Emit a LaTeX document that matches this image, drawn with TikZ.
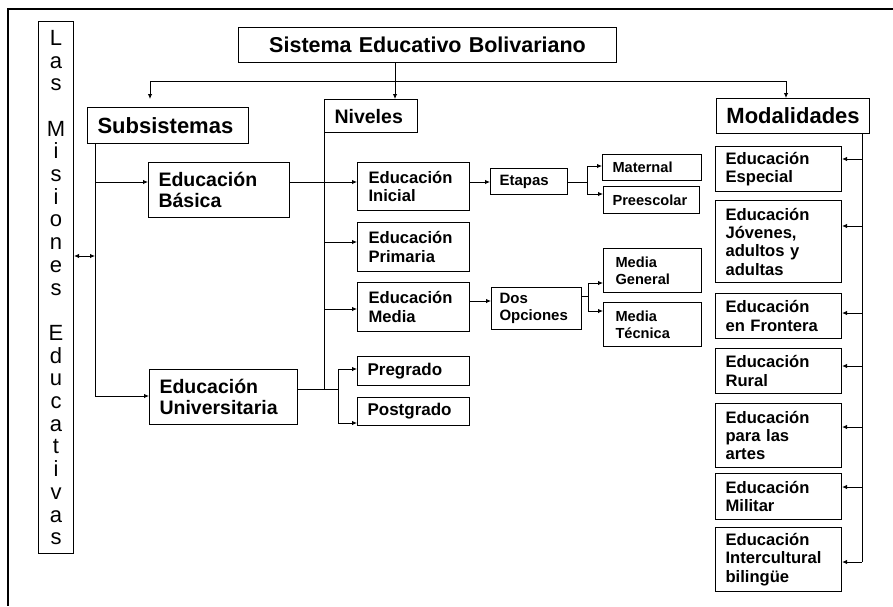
\documentclass[tikz,border=0pt]{standalone}
\usepackage{fontspec}
\setmainfont{Liberation Sans}
\usetikzlibrary{arrows.meta}
\tikzset{
  bx/.style={draw, line width=1.1pt, anchor=north west, inner ysep=0pt, align=left, font=\bfseries},
  arr/.style={-{Latex[length=5pt,width=4.5pt]}, line width=0.9pt},
  arrb/.style={{Latex[length=5pt,width=4.5pt]}-{Latex[length=5pt,width=4.5pt]}, line width=0.9pt},
  ln/.style={line width=0.9pt},
  fA/.style={font=\bfseries\fontsize{22}{24}\selectfont},
  fB/.style={font=\bfseries\fontsize{19.5}{21.5}\selectfont},
  fC/.style={font=\bfseries\fontsize{16.6}{18.3}\selectfont},
  fD/.style={font=\bfseries\fontsize{14.6}{17.5}\selectfont},
}
\begin{document}
\begin{tikzpicture}[x=1pt,y=-1pt]
\useasboundingbox (0,0) rectangle (893,606);
% frame
\draw[line width=2pt] (893,9) -- (8,9) -- (8,606);
% Las Misiones
\node[draw, line width=1.1pt, anchor=north west, minimum width=35, minimum height=532, inner sep=0pt, align=center,
  font=\fontsize{22}{22.7}\selectfont] (mis) at (38,21)
  {L\\a\\s\\\mbox{}\\M\\i\\s\\i\\o\\n\\e\\s\\\mbox{}\\E\\d\\u\\c\\a\\t\\i\\v\\a\\s};
% top boxes
\node[bx, align=center, minimum width=378, minimum height=35, text width=358, inner xsep=10pt, font=\bfseries\fontsize{21.5}{24}\selectfont] (sis) at (238,27) {Sistema Educativo Bolivariano};
\node[bx, fA, minimum width=161, minimum height=36, text width=141, inner xsep=10pt] (sub) at (87,107) {Subsistemas};
\node[bx, fB, minimum width=93, minimum height=33, text width=73, inner xsep=10pt] (niv) at (324,99) {Niveles};
\node[bx, fA, align=center, minimum width=153, minimum height=35, text width=141, inner xsep=6pt] (mod) at (716,98) {Modalidades};
% subsystems
\node[bx, fB, minimum width=141, minimum height=55, text width=121, inner xsep=10pt] (bas) at (148,162) {Educación\\Básica};
\node[bx, fB, minimum width=148, minimum height=55, text width=128, inner xsep=10pt] (uni) at (149,369) {Educación\\Universitaria};
% levels
\node[bx, fC, minimum width=112, minimum height=48, text width=90, inner xsep=11pt] (ini) at (357,162) {Educación\\Inicial};
\node[bx, fC, minimum width=112, minimum height=49, text width=90, inner xsep=11pt] (pri) at (357,222) {Educación\\Primaria};
\node[bx, fC, minimum width=112, minimum height=49, text width=90, inner xsep=11pt] (med) at (357,282) {Educación\\Media};
\node[bx, minimum width=112, minimum height=29, text width=92, inner xsep=10pt, font=\bfseries\fontsize{17}{19}\selectfont] (pre) at (357,356) {Pregrado};
\node[bx, minimum width=112, minimum height=28, text width=92, inner xsep=10pt, font=\bfseries\fontsize{17}{19}\selectfont] (pos) at (357,397) {Postgrado};
% stages
\node[bx, minimum width=77, minimum height=26, text width=59, inner xsep=9pt, font=\bfseries\fontsize{15}{17}\selectfont] (eta) at (490,168) {Etapas};
\node[bx, fD, minimum width=99, minimum height=26, text width=79, inner xsep=10pt] (mat) at (602,154) {Maternal};
\node[bx, fD, minimum width=96, minimum height=27, text width=78, inner xsep=9pt] (pes) at (603,186) {Preescolar};
\node[bx, minimum width=90, minimum height=42, text width=74, inner xsep=8pt, font=\bfseries\fontsize{15}{17}\selectfont] (dos) at (491,287) {Dos\\Opciones};
\node[bx, fD, minimum width=98, minimum height=44, text width=74, inner xsep=12pt] (mge) at (603,248) {Media\\General};
\node[bx, fD, minimum width=98, minimum height=44, text width=74, inner xsep=12pt] (mte) at (603,302) {Media\\Técnica};
% modalities
\node[bx, fC, minimum width=126, minimum height=45, text width=106, inner xsep=10pt] (esp) at (715,146) {Educación\\Especial};
\node[bx, fC, minimum width=126, minimum height=82, text width=106, inner xsep=10pt] (jov) at (715,200) {Educación\\Jóvenes,\\adultos y\\adultas};
\node[bx, fC, minimum width=126, minimum height=45, text width=106, inner xsep=10pt] (fro) at (715,293) {Educación\\en Frontera};
\node[bx, fC, minimum width=126, minimum height=45, text width=106, inner xsep=10pt] (rur) at (715,348) {Educación\\Rural};
\node[bx, fC, minimum width=126, minimum height=64, text width=106, inner xsep=10pt] (art) at (715,403) {Educación\\para las\\artes};
\node[bx, fC, minimum width=126, minimum height=46, text width=106, inner xsep=10pt] (mil) at (715,473) {Educación\\Militar};
\node[bx, fC, minimum width=126, minimum height=64, text width=106, inner xsep=10pt] (int) at (715,527) {Educación\\Intercultural\\bilingüe};
% junction coordinates
\coordinate (j1) at (395,81);
\coordinate (subtip) at (150,99);
\coordinate (hr) at (786,81);
\coordinate (sv) at (95,143);
\coordinate (uj) at (338,389);
\coordinate (ej) at (587,182);
\coordinate (dj) at (588,296);
\coordinate (mv) at (862,133);
% top connectors
\draw[ln] (sis.south -| j1) -- (j1);
\draw[arr] (j1) -- (niv.north -| j1);
\draw[arr] (j1) -| (subtip);
\draw[arr] (j1) -| (mod.north -| hr);
% subsystems
\draw[arr] (sub.south -| sv) |- (uni.west |- 0,396);
\draw[arr] (sv |- 0,182) -- (bas.west |- 0,182);
\draw[arrb] (mis.east |- 0,256) -- (sv |- 0,256);
% levels
\draw[ln] (niv.south west) -- (niv.west |- uj);
\draw[ln] (uni.east |- uj) -- (uj);
\draw[arr] (bas.east |- 0,182) -- (ini.west |- 0,182);
\draw[arr] (niv.west |- 0,242) -- (pri.west |- 0,242);
\draw[arr] (niv.west |- 0,309) -- (med.west |- 0,309);
\draw[arr] (uj) |- (pre.west |- 0,369);
\draw[arr] (uj) |- (pos.west |- 0,423);
% stages
\draw[arr] (ini.east |- 0,182) -- (eta.west |- 0,182);
\draw[ln] (eta.east |- ej) -- (ej);
\draw[arr] (ej) |- (mat.west |- 0,166);
\draw[arr] (ej) |- (pes.west |- 0,194);
\draw[arr] (med.east |- 0,301) -- (dos.west |- 0,301);
\draw[ln] (dos.east |- dj) -- (dj);
\draw[arr] (dj) |- (mge.west |- 0,283);
\draw[arr] (dj) |- (mte.west |- 0,311);
% modalities
\draw[ln] (mv) -- (mv |- 0,562);
\draw[arr] (mv |- 0,159) -- (esp.east |- 0,159);
\draw[arr] (mv |- 0,226) -- (jov.east |- 0,226);
\draw[arr] (mv |- 0,313) -- (fro.east |- 0,313);
\draw[arr] (mv |- 0,366) -- (rur.east |- 0,366);
\draw[arr] (mv |- 0,427) -- (art.east |- 0,427);
\draw[arr] (mv |- 0,487) -- (mil.east |- 0,487);
\draw[arr] (mv |- 0,562) -- (int.east |- 0,562);
\end{tikzpicture}
\end{document}
